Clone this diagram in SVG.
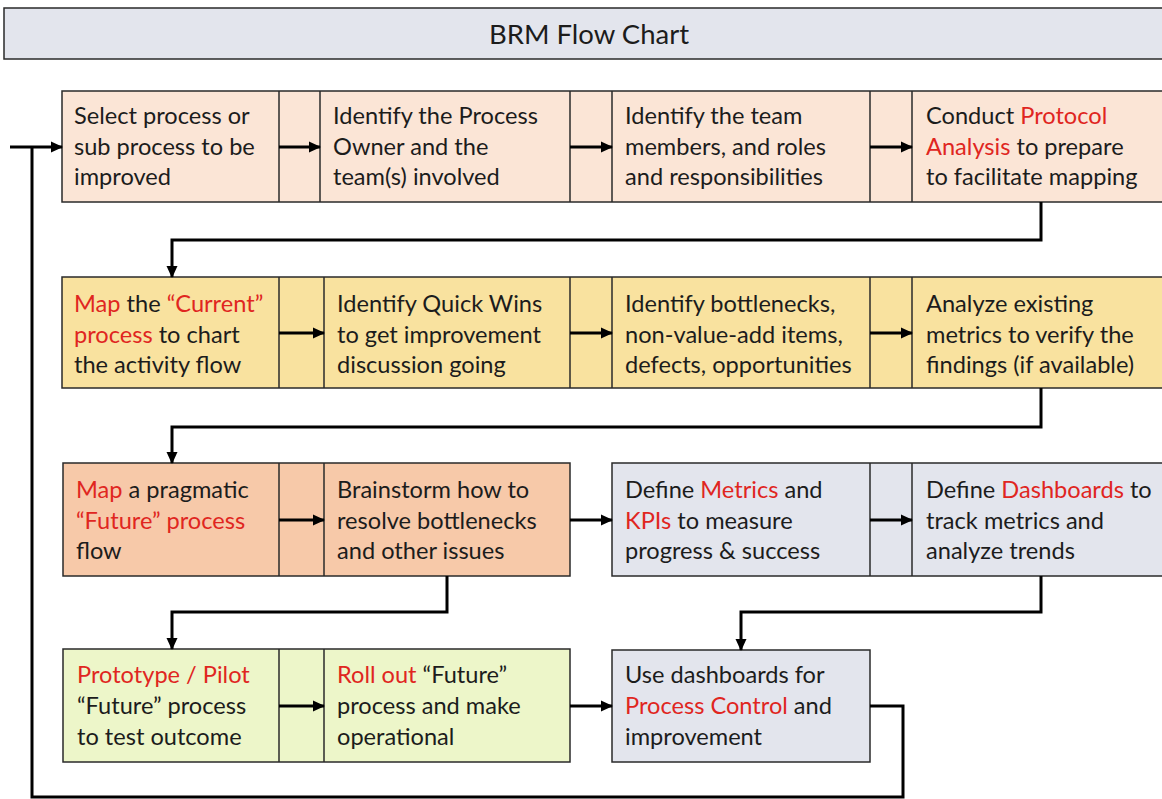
<svg xmlns="http://www.w3.org/2000/svg" width="1162" height="799" viewBox="0 0 1162 799">
  <style>
    .t { font-family: Lato, "Open Sans", sans-serif; font-size: 23.6px; fill: #1c1c1c; }
    .r { fill: #e0261f; }
    .cell { stroke: #2a2a2a; stroke-width: 1.5; }
    .div { stroke: #2a2a2a; stroke-width: 1.5; }
    .peach { fill: #fbe5d6; }
    .gold { fill: #f9e29f; }
    .orange { fill: #f7c9a9; }
    .grey { fill: #e3e5ed; }
    .lime { fill: #edf6c9; }
    .conn { fill: none; stroke: #000; stroke-width: 3; }
  </style>
  <defs>
    <marker id="arrow" markerUnits="userSpaceOnUse" markerWidth="12" markerHeight="12" viewBox="0 0 12 12" refX="11" refY="6" orient="auto">
      <path d="M0,0.5 L12,6 L0,11.5 Z" fill="#000"/>
    </marker>
  </defs>

  <rect width="1162" height="799" fill="#ffffff"/>

  <!-- title bar -->
  <g id="title">
    <rect x="4" y="8" width="1170" height="51" fill="#e3e5ed" stroke="#2a2a2a" stroke-width="1.5"/>
    <text x="589" y="44" text-anchor="middle" style="font-family: Lato, 'Open Sans', sans-serif; font-size: 27.5px; fill: #1c1c1c;">BRM Flow Chart</text>
  </g>

  <!-- row backgrounds and cell dividers -->
  <g id="row1-band">
    <rect class="cell peach" x="62" y="91" width="1110" height="111"/>
    <line class="div" x1="279" y1="91" x2="279" y2="202"/>
    <line class="div" x1="320" y1="91" x2="320" y2="202"/>
    <line class="div" x1="570" y1="91" x2="570" y2="202"/>
    <line class="div" x1="612" y1="91" x2="612" y2="202"/>
    <line class="div" x1="870" y1="91" x2="870" y2="202"/>
    <line class="div" x1="912" y1="91" x2="912" y2="202"/>
  </g>
  <g id="row2-band">
    <rect class="cell gold" x="62" y="277" width="1110" height="111"/>
    <line class="div" x1="279" y1="277" x2="279" y2="388"/>
    <line class="div" x1="324" y1="277" x2="324" y2="388"/>
    <line class="div" x1="570" y1="277" x2="570" y2="388"/>
    <line class="div" x1="612" y1="277" x2="612" y2="388"/>
    <line class="div" x1="870" y1="277" x2="870" y2="388"/>
    <line class="div" x1="912" y1="277" x2="912" y2="388"/>
  </g>
  <g id="row3-band">
    <rect class="cell orange" x="63" y="463" width="507" height="113"/>
    <line class="div" x1="279" y1="463" x2="279" y2="576"/>
    <line class="div" x1="324" y1="463" x2="324" y2="576"/>
    <rect class="cell grey" x="612" y="463" width="560" height="113"/>
    <line class="div" x1="870" y1="463" x2="870" y2="576"/>
    <line class="div" x1="912" y1="463" x2="912" y2="576"/>
  </g>
  <g id="row4-band">
    <rect class="cell lime" x="63" y="649" width="507" height="113"/>
    <line class="div" x1="279" y1="649" x2="279" y2="762"/>
    <line class="div" x1="324" y1="649" x2="324" y2="762"/>
    <rect class="cell grey" x="612" y="650" width="258" height="112"/>
  </g>

  <!-- steps -->
  <g id="select-process">
    <text class="t" x="74" y="124">Select process or</text>
    <text class="t" x="74" y="155">sub process to be</text>
    <text class="t" x="74" y="185">improved</text>
  </g>
  <g id="identify-owner">
    <text class="t" x="333" y="124">Identify the Process</text>
    <text class="t" x="333" y="155">Owner and the</text>
    <text class="t" x="333" y="185">team(s) involved</text>
  </g>
  <g id="identify-team">
    <text class="t" x="625" y="124">Identify the team</text>
    <text class="t" x="625" y="155">members, and roles</text>
    <text class="t" x="625" y="185">and responsibilities</text>
  </g>
  <g id="protocol-analysis">
    <text class="t" x="926" y="124">Conduct <tspan class="r">Protocol</tspan></text>
    <text class="t" x="926" y="155"><tspan class="r">Analysis</tspan> to prepare</text>
    <text class="t" x="926" y="185">to facilitate mapping</text>
  </g>

  <g id="map-current">
    <text class="t" x="74" y="312"><tspan class="r">Map</tspan> the <tspan class="r">“Current”</tspan></text>
    <text class="t" x="74" y="343"><tspan class="r">process</tspan> to chart</text>
    <text class="t" x="74" y="373">the activity flow</text>
  </g>
  <g id="quick-wins">
    <text class="t" x="337" y="312">Identify Quick Wins</text>
    <text class="t" x="337" y="343">to get improvement</text>
    <text class="t" x="337" y="373">discussion going</text>
  </g>
  <g id="bottlenecks">
    <text class="t" x="625" y="312">Identify bottlenecks,</text>
    <text class="t" x="625" y="343">non-value-add items,</text>
    <text class="t" x="625" y="373">defects, opportunities</text>
  </g>
  <g id="analyze-metrics">
    <text class="t" x="926" y="312">Analyze existing</text>
    <text class="t" x="926" y="343">metrics to verify the</text>
    <text class="t" x="926" y="373">findings (if available)</text>
  </g>

  <g id="map-future">
    <text class="t" x="76" y="498"><tspan class="r">Map</tspan> a pragmatic</text>
    <text class="t" x="76" y="529"><tspan class="r">“Future” process</tspan></text>
    <text class="t" x="76" y="559">flow</text>
  </g>
  <g id="brainstorm">
    <text class="t" x="337" y="498">Brainstorm how to</text>
    <text class="t" x="337" y="529">resolve bottlenecks</text>
    <text class="t" x="337" y="559">and other issues</text>
  </g>
  <g id="define-metrics">
    <text class="t" x="625" y="498">Define <tspan class="r">Metrics</tspan> and</text>
    <text class="t" x="625" y="529"><tspan class="r">KPIs</tspan> to measure</text>
    <text class="t" x="625" y="559">progress &amp; success</text>
  </g>
  <g id="define-dashboards">
    <text class="t" x="926" y="498">Define <tspan class="r">Dashboards</tspan> to</text>
    <text class="t" x="926" y="529">track metrics and</text>
    <text class="t" x="926" y="559">analyze trends</text>
  </g>

  <g id="prototype-pilot">
    <text class="t" x="77" y="683"><tspan class="r">Prototype / Pilot</tspan></text>
    <text class="t" x="77" y="714">“Future” process</text>
    <text class="t" x="77" y="745">to test outcome</text>
  </g>
  <g id="roll-out">
    <text class="t" x="337" y="683"><tspan class="r">Roll out</tspan> “Future”</text>
    <text class="t" x="337" y="714">process and make</text>
    <text class="t" x="337" y="745">operational</text>
  </g>
  <g id="process-control">
    <text class="t" x="625" y="683">Use dashboards for</text>
    <text class="t" x="625" y="714"><tspan class="r">Process Control</tspan> and</text>
    <text class="t" x="625" y="745">improvement</text>
  </g>

  <!-- connectors -->
  <g id="connectors">
    <!-- row 1 -->
    <line class="conn" x1="279" y1="147" x2="320" y2="147" marker-end="url(#arrow)"/>
    <line class="conn" x1="570" y1="147" x2="612" y2="147" marker-end="url(#arrow)"/>
    <line class="conn" x1="870" y1="147" x2="912" y2="147" marker-end="url(#arrow)"/>
    <!-- row 1 to row 2 -->
    <polyline class="conn" points="1041,202 1041,240 172,240 172,277" marker-end="url(#arrow)"/>
    <!-- row 2 -->
    <line class="conn" x1="279" y1="333" x2="324" y2="333" marker-end="url(#arrow)"/>
    <line class="conn" x1="570" y1="333" x2="612" y2="333" marker-end="url(#arrow)"/>
    <line class="conn" x1="870" y1="333" x2="912" y2="333" marker-end="url(#arrow)"/>
    <!-- row 2 to row 3 -->
    <polyline class="conn" points="1041,388 1041,427 172,427 172,463" marker-end="url(#arrow)"/>
    <!-- row 3 -->
    <line class="conn" x1="279" y1="520" x2="324" y2="520" marker-end="url(#arrow)"/>
    <line class="conn" x1="570" y1="520" x2="612" y2="520" marker-end="url(#arrow)"/>
    <line class="conn" x1="870" y1="520" x2="912" y2="520" marker-end="url(#arrow)"/>
    <!-- row 3 to row 4 -->
    <polyline class="conn" points="447,576 447,612 172,612 172,649" marker-end="url(#arrow)"/>
    <polyline class="conn" points="1041,576 1041,612 741,612 741,650" marker-end="url(#arrow)"/>
    <!-- row 4 -->
    <line class="conn" x1="279" y1="706" x2="324" y2="706" marker-end="url(#arrow)"/>
    <line class="conn" x1="570" y1="706" x2="612" y2="706" marker-end="url(#arrow)"/>
    <!-- feedback loop back to the start -->
    <polyline class="conn" points="870,706 903,706 903,797 32,797 32,147"/>
    <line class="conn" x1="10" y1="147" x2="62" y2="147" marker-end="url(#arrow)"/>
  </g>
</svg>
